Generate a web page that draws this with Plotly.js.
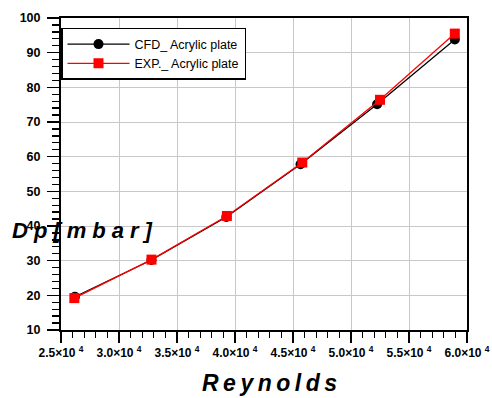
<!DOCTYPE html>
<html>
<head>
<meta charset="utf-8">
<script src="https://cdn.plot.ly/plotly-3.0.1.min.js"></script>
<style>html,body{margin:0;padding:0;background:#fff}</style>
</head>
<body>
<div id="chart" style="width:492px;height:398px"></div>
<script>
// Data
const cfdReynolds = [26200, 32800, 39250, 45650, 52250, 58950];
const cfdDp       = [19.6, 30.2, 42.6, 57.8, 75.1, 93.8];
const expReynolds = [26150, 32800, 39300, 45800, 52500, 58950];
const expDp       = [19.2, 30.3, 42.9, 58.3, 76.4, 95.5];
const seriesNames = ['CFD_ Acrylic plate', 'EXP._ Acrylic plate'];
const xTickVals   = [25000, 30000, 35000, 40000, 45000, 50000, 55000, 60000];
const xTickText   = ['2.5×10 <sup>4</sup>', '3.0×10 <sup>4</sup>', '3.5×10 <sup>4</sup>', '4.0×10 <sup>4</sup>',
                     '4.5×10 <sup>4</sup>', '5.0×10 <sup>4</sup>', '5.5×10 <sup>4</sup>', '6.0×10 <sup>4</sup>'];
const yTickVals   = [10, 20, 30, 40, 50, 60, 70, 80, 90, 100];
const xTitle = 'Reynolds';
const yTitle = 'Dp[mbar]';

const traces = [
  {x: cfdReynolds, y: cfdDp, name: seriesNames[0], type: 'scatter', mode: 'lines+markers',
   line: {color: '#000000', width: 1.3}, marker: {symbol: 'circle', size: 10, color: '#000000'}},
  {x: expReynolds, y: expDp, name: seriesNames[1], type: 'scatter', mode: 'lines+markers',
   line: {color: '#ff0000', width: 1.3}, marker: {symbol: 'square', size: 10, color: '#ff0000'}}
];

const titleFont = {size: 23, family: 'Liberation Sans, Arial', weight: 'bold', style: 'italic', color: '#000'};

const layout = {
  width: 492, height: 398,
  margin: {l: 61, r: 25, t: 18, b: 68},
  paper_bgcolor: '#ffffff', plot_bgcolor: '#ffffff',
  font: {family: 'Liberation Sans, Arial, sans-serif', color: '#000'},
  showlegend: true,
  legend: {x: 0, y: 0.968, xanchor: 'left', yanchor: 'top', bgcolor: '#ffffff',
           bordercolor: '#000', borderwidth: 1.5, font: {size: 12.5, family: 'Liberation Sans, Arial'},
           itemwidth: 62, tracegroupgap: 2},
  xaxis: {range: [25000, 60000], tickvals: xTickVals, ticktext: xTickText,
          ticks: 'outside', ticklen: 11, tickwidth: 1.5, tickcolor: '#000',
          showline: true, linecolor: '#000', linewidth: 2, mirror: true,
          showgrid: true, gridcolor: '#c8c8c8', gridwidth: 1, zeroline: false,
          tickfont: {size: 12, family: 'Liberation Sans, Arial', weight: 'bold'},
          minor: {dtick: 1000, ticks: 'outside', ticklen: 6, tickwidth: 1.3, tickcolor: '#000', showgrid: false}},
  yaxis: {range: [10, 100], tickvals: yTickVals,
          ticks: 'outside', ticklen: 12, tickwidth: 1.5, tickcolor: '#000',
          showline: true, linecolor: '#000', linewidth: 2, mirror: true,
          showgrid: true, gridcolor: '#c8c8c8', gridwidth: 1, zeroline: false,
          ticklabelstandoff: 4,
          tickfont: {size: 12.5, family: 'Liberation Sans, Arial', weight: 'bold'},
          minor: {dtick: 2, ticks: 'outside', ticklen: 7, tickwidth: 1.3, tickcolor: '#000', showgrid: false}},
  annotations: [
    {text: '<span style="letter-spacing:6px">' + yTitle + '</span>', xref: 'paper', yref: 'paper',
     x: -0.125, y: 0.318, xanchor: 'left', yanchor: 'middle', showarrow: false,
     font: Object.assign({}, titleFont, {size: 22})},
    {text: '<span style="letter-spacing:4.5px">' + xTitle + '</span>', xref: 'paper', yref: 'paper',
     x: 0.519, y: -0.17, xanchor: 'center', yanchor: 'middle', showarrow: false,
     font: titleFont}
  ]
};

Plotly.newPlot('chart', traces, layout, {displayModeBar: false, staticPlot: true});
</script>
</body>
</html>
